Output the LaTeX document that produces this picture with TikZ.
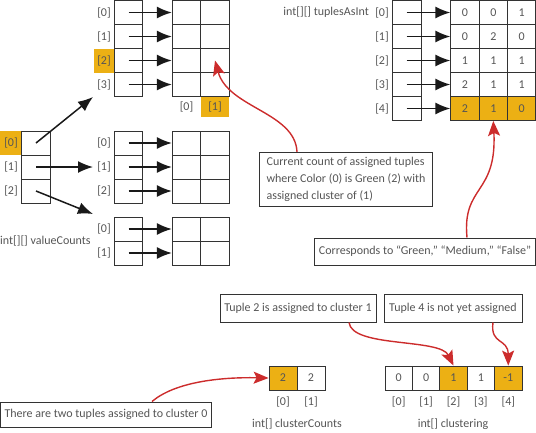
\documentclass[tikz,border=0pt]{standalone}
\usepackage{fontspec}
\setmainfont{Carlito}
\usetikzlibrary{arrows.meta}
\definecolor{hlgold}{RGB}{236,176,20}
\definecolor{txtgray}{RGB}{85,85,85}
\definecolor{noteRed}{RGB}{204,44,44}

\begin{document}
\begin{tikzpicture}[x=1pt, y=-1pt, >={Latex[length=15pt,width=12pt]}]
      \tikzstyle{every node}=[font=\fontsize{12}{17}\selectfont, text=txtgray]
      \tikzstyle{cell}=[draw=black!80, line width=0.8pt, minimum width=28.5pt, minimum height=24pt, inner sep=0pt]
      \tikzstyle{idx}=[minimum width=21pt, minimum height=24pt, inner sep=0pt]
      \tikzstyle{hl}=[fill=hlgold]
      \tikzstyle{nohl}=[]
      \tikzstyle{note}=[draw=black!80, line width=1pt, fill=white, inner sep=4pt, align=left]
      \tikzstyle{ptr}=[->, line width=1.5pt, black!90]
      \tikzstyle{redarr}=[-{Stealth[length=15pt,width=12pt,inset=3pt]}, line width=1.4pt, noteRed]
      \useasboundingbox (0,0) rectangle (536,432);
      %% valueCounts
      \foreach \i/\y/\s in {0/143/hl, 1/167/nohl, 2/191/nohl} {
        \node[idx, minimum width=22pt, \s] (vci\i) at (11,\y) {[\i]};
        \node[cell] (vc\i) at (36,\y) {};
      }
      \node[anchor=west, inner sep=0pt] (vclabel) at (0,241) {int[][] valueCounts};
      %% per attribute arrays
      \foreach \n/\y/\k/\s in {a0/12.5/0/nohl, a1/36.5/1/nohl, a2/60.5/2/hl, a3/84.5/3/nohl,
                               b0/143/0/nohl, b1/167/1/nohl, b2/191/2/nohl,
                               c0/229/0/nohl, c1/253/1/nohl} {
        \node[idx, \s] (\n i) at (104,\y) {[\k]};
        \node[cell] (\n) at (128.5,\y) {};
        \node[cell] (\n-0) at (186.5,\y) {};
        \node[cell] (\n-1) at (215,\y) {};
        \draw[ptr] (\n.center) -- (\n-0.west);
      }
      \node[idx, minimum width=28.5pt, minimum height=20pt] (ac0) at (186.5,107) {[0]};
      \node[idx, minimum width=28.5pt, minimum height=20pt, hl] (ac1) at (215,107) {[1]};
      \draw[ptr] (vc0.center) -- (93,97);
      \draw[ptr] (vc1.center) -- (93,167);
      \draw[ptr] (vc2.center) -- (93,214);
      %% tuplesAsInt
      \foreach \r/\u/\v/\w/\s in {0/0/0/1/nohl, 1/0/2/0/nohl, 2/1/1/1/nohl, 3/2/1/1/nohl, 4/2/1/0/hl} {
        \node[idx] (ti\r) at (382,12.5+24*\r) {[\r]};
        \node[cell, minimum width=29pt] (t\r) at (406.5,12.5+24*\r) {};
        \node[cell, \s] (t\r-0) at (465,12.5+24*\r) {\u};
        \node[cell, \s] (t\r-1) at (493.3,12.5+24*\r) {\v};
        \node[cell, \s] (t\r-2) at (521.6,12.5+24*\r) {\w};
        \draw[ptr] (t\r.center) -- (t\r-0.west);
      }
      \node[anchor=east, inner sep=0pt] (tlabel) at (369,12.5) {int[][] tuplesAsInt};
      %% clusterCounts
      \foreach \i/\v/\s in {0/2/hl, 1/2/nohl} {
        \node[cell, minimum width=28pt, \s] (cc\i) at (283+28*\i,378) {\v};
        \node[inner sep=0pt] (cci\i) at (283+28*\i,402) {[\i]};
      }
      \node (cclabel) at (297,424) {int[] clusterCounts};
      %% clustering
      \foreach \i/\v/\s in {0/0/nohl, 1/0/nohl, 2/1/hl, 3/1/nohl, 4/-1/hl} {
        \node[cell, minimum width=27.4pt, \s] (cl\i) at (398.7+27.4*\i,378) {\v};
        \node[inner sep=0pt] (cli\i) at (398.7+27.4*\i,402) {[\i]};
      }
      \node (cllabel) at (453,424) {int[] clustering};
      %% notes
      \node[note, inner xsep=7pt, inner ysep=5pt] (n1) at (346,179.5) {Current count of assigned tuples\\where Color (0) is Green (2) with\\assigned cluster of (1)};
      \node[note, minimum width=220pt, minimum height=27pt] (n2) at (425,251.5) {Corresponds to ``Green,'' ``Medium,'' ``False''};
      \node[note, minimum width=156pt, minimum height=28pt] (n3) at (298,308) {Tuple 2 is assigned to cluster 1};
      \node[note, minimum width=138pt, minimum height=28pt] (n4) at (453,308) {Tuple 4 is not yet assigned};
      \node[note, minimum width=208pt, minimum height=25pt] (n5) at (106,414.5) {There are two tuples assigned to cluster 0};
      \draw[redarr] (n1.north -| 297,0) ..controls (295,112) and (228,108) .. (a2-1.center);
      \draw[redarr] (n2.north -| 467,0) ..controls (462,185) and (497,195) .. (t4-1.south);
      \draw[redarr] (n3.south -| 349,0) ..controls (352,348) and (440,338) .. (cl2.north);
      \draw[redarr] (n4.south -| 493,0) ..controls (490,345) and (508,338) .. (cl4.north);
      \draw[redarr] (n5.north -| 152,0) ..controls (175,382) and (220,377) .. (cc0.west);
%
\end{tikzpicture}
\end{document}
